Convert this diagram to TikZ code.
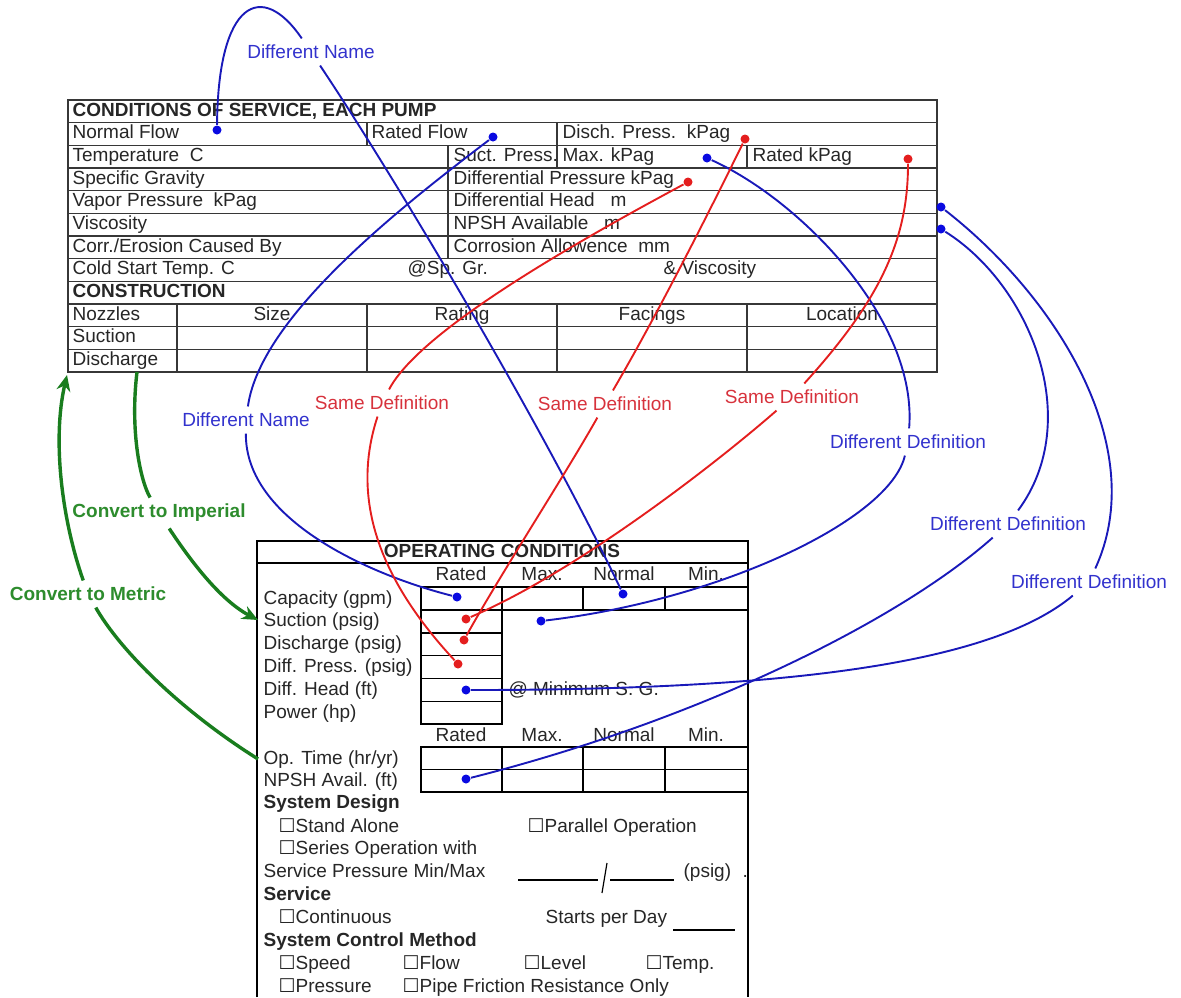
\documentclass[tikz,border=0pt]{standalone}
\usepackage{fontspec}
\setmainfont{Liberation Sans}
\newfontfamily\symfont{DejaVu Sans}
\usepackage{tikz}
\usetikzlibrary{arrows,arrows.meta,positioning}

\definecolor{lnblue}{RGB}{25,25,185}
\definecolor{txblue}{RGB}{50,50,205}
\definecolor{dotblue}{RGB}{10,10,225}
\definecolor{lnred}{RGB}{228,30,30}
\definecolor{txred}{RGB}{215,50,60}
\definecolor{lngreen}{RGB}{25,125,30}
\definecolor{txgreen}{RGB}{45,140,45}
\definecolor{gridgray}{RGB}{55,55,55}

\newcommand{\cb}{{\symfont\char"2610}}

\begin{document}
\begin{tikzpicture}[x=0.5pt,y=-0.5pt,>={Stealth[length=8pt,width=7pt]},semithick,
                    font=\fontsize{9.5}{11}\selectfont]
  \tikzstyle{txt}=[anchor=base west,inner sep=0pt,text=black!85]
  \tikzstyle{hdr}=[anchor=base,inner sep=0pt,text=black!85]
  \tikzstyle{grid}=[draw=gridgray,line width=0.6pt]
  \tikzstyle{cell}=[draw=black,line width=0.7pt]
  \tikzstyle{obox}=[draw=black,line width=1.2pt]
  \tikzstyle{bdot}=[circle,fill=dotblue,inner sep=0pt,minimum size=4.5pt]
  \tikzstyle{rdot}=[circle,fill=lnred,inner sep=0pt,minimum size=4.5pt]
  \tikzstyle{blab}=[text=txblue,inner sep=3pt]
  \tikzstyle{rlab}=[text=txred,inner sep=3pt]
  \tikzstyle{glab}=[text=txgreen,font=\fontsize{9.5}{11}\selectfont\bfseries,inner sep=3pt]
  \tikzstyle{bline}=[draw=lnblue,line width=0.95pt]
  \tikzstyle{rline}=[draw=lnred,line width=0.95pt]
  \tikzstyle{gline}=[draw=lngreen,line width=1.7pt,->]

  \useasboundingbox (0,0) rectangle (1181,997);

  % conditions of service table
  \draw[grid] (68,100) rectangle (937,372);
  \foreach \r in {1,...,11}
    \draw[grid] (68,{100+\r*22.667}) -- (937,{100+\r*22.667});
  \draw[grid] (367,122.67) -- (367,145.33);
  \draw[grid] (557,122.67) -- (557,168);
  \draw[grid] (448,145.33) -- (448,258.67);
  \draw[grid] (747,145.33) -- (747,168);
  \foreach \x in {177,367,557,747}
    \draw[grid] (\x,304) -- (\x,372);

  \foreach \t [count=\i from 0] in {{\bfseries CONDITIONS OF SERVICE, EACH PUMP},
      {Normal Flow},{Temperature\ \ C},{Specific Gravity},{Vapor Pressure\ \ kPag},
      {Viscosity},{Corr./Erosion Caused By},{Cold Start Temp. C},
      {\bfseries CONSTRUCTION},{Nozzles},{Suction},{Discharge}}
    \node[txt] (L\i) at (72,{100+\i*22.667+16}) {\t};

  \node[txt] (ratedFlow) at (371,138.7) {Rated Flow};
  \node[txt] (dischP)    at (562,138.7) {Disch. Press.\ \ kPag};
  \node[txt] (suctP)     at (453,161.3) {Suct. Press.};
  \node[txt] (maxK)      at (562,161.3) {Max. kPag};
  \node[txt] (ratedK)    at (752,161.3) {Rated kPag};
  \node[txt] (diffP)     at (453,184)   {Differential Pressure kPag};
  \node[txt] (diffH)     at (453,206.7) {Differential Head\ \ \ m};
  \node[txt] (npshA)     at (453,229.3) {NPSH Available\ \ \ m};
  \node[txt] (corrA)     at (453,252)   {Corrosion Allowence\ \ mm};
  \node[txt] (spGr)      at (407,274.7) {@Sp. Gr.};
  \node[txt] (visc)      at (663,274.7) {\&\ Viscosity};
  \node[hdr] (size)      at (272,320)   {Size};
  \node[hdr] (rating)    at (462,320)   {Rating};
  \node[hdr] (facings)   at (652,320)   {Facings};
  \node[hdr] (location)  at (842,320)   {Location};

  % operating conditions box
  \draw[obox] (257,997) -- (257,541) -- (748,541) -- (748,997);
  \draw[obox] (257,563) -- (748,563);
  \node[hdr] (opc) at (502,557) {\bfseries OPERATING CONDITIONS};
  \foreach \y/\n in {580.7/a,741.7/b}{
    \node[hdr] (rt\n) at (461,\y) {Rated};
    \node[hdr] (mx\n) at (542,\y) {Max.};
    \node[hdr] (nm\n) at (624,\y) {Normal};
    \node[hdr] (mn\n) at (706,\y) {Min.};
  }
  \draw[cell] (421,587) rectangle (748,610);
  \foreach \x in {502,583,665}
    \draw[cell] (\x,587) -- (\x,610);
  \foreach \y in {610,632.8,655.6,678.4,701.2}
    \draw[cell] (421,\y) rectangle (502,\y+22.8);
  \draw[cell] (421,747) rectangle (748,792);
  \draw[cell] (421,769.5) -- (748,769.5);
  \foreach \x in {502,583,665}
    \draw[cell] (\x,747) -- (\x,792);

  \foreach \t [count=\i from 0] in {{Capacity (gpm)},{Suction (psig)},{Discharge (psig)},
      {Diff. Press. (psig)},{Diff. Head (ft)},{Power (hp)}}
    \node[txt] (op\i) at (263,{604+\i*22.8}) {\t};
  \node[txt] (opTime) at (263,764) {Op. Time (hr/yr)};
  \node[txt] (opNpsh) at (263,786) {NPSH Avail. (ft)};
  \node[txt] (minSG)  at (508,695) {@ Minimum S. G.};

  \node[txt] (sysD)   at (263,808) {\bfseries System Design};
  \node[txt] (alone)  at (278,832) {\cb Stand Alone};
  \node[txt] (para)   at (527,832) {\cb Parallel Operation};
  \node[txt] (series) at (278,854) {\cb Series Operation with};
  \node[txt] (svcP)   at (263,877) {Service Pressure Min/Max};
  \node[txt] (psig)   at (683,877) {(psig)};
  \node[txt] (dot)    at (742,877) {.};
  \draw[line width=0.6pt] (518,880) -- (598,880);
  \draw[line width=0.6pt] (610,880) -- (674,880);
  \draw[line width=0.6pt] (607,863) -- (602,893);
  \node[txt] (svc)    at (263,900) {\bfseries Service};
  \node[txt] (cont)   at (278,923) {\cb Continuous};
  \node[txt] (starts) at (545,923) {Starts per Day};
  \draw[line width=0.6pt] (673,930) -- (735,930);
  \node[txt] (scm)    at (263,946) {\bfseries System Control Method};
  \node[txt] (speed)  at (278,969) {\cb Speed};
  \node[txt] (flow)   at (402,969) {\cb Flow};
  \node[txt] (level)  at (523,969) {\cb Level};
  \node[txt] (temp)   at (645,969) {\cb Temp.};
  \node[txt] (press)  at (278,992) {\cb Pressure};
  \node[txt] (pipe)   at (402,992) {\cb Pipe Friction Resistance Only};

  % end points
  \node[bdot] (nfDot)     at (217,130) {};
  \node[bdot] (rfDot)     at (493,137) {};
  \node[rdot] (dischDot)  at (745,139) {};
  \node[bdot] (maxDot)    at (707,158) {};
  \node[rdot] (ratedKDot) at (908,159) {};
  \node[rdot] (diffPDot)  at (688,182) {};
  \node[bdot] (headDot)   at (941,207) {};
  \node[bdot] (npshDot)   at (941,229) {};
  \node[bdot] (capRDot)   at (457,597) {};
  \node[bdot] (capNDot)   at (623,594) {};
  \node[rdot] (sucRDot)   at (466,619) {};
  \node[bdot] (sucMDot)   at (541,621) {};
  \node[rdot] (disRDot)   at (464,640) {};
  \node[rdot] (dpRDot)    at (458,664) {};
  \node[bdot] (hdRDot)    at (466,690) {};
  \node[bdot] (npRDot)    at (466,779) {};

  % labels
  \node[blab] (dname1) at (311,52)  {Different Name};
  \node[blab] (dname2) at (246,420) {Different Name};
  \node[rlab] (sdef1)  at (382,403) {Same Definition};
  \node[rlab] (sdef2)  at (605,404) {Same Definition};
  \node[rlab] (sdef3)  at (792,397) {Same Definition};
  \node[blab] (ddef1)  at (908,442) {Different Definition};
  \node[blab] (ddef2)  at (1008,524) {Different Definition};
  \node[blab] (ddef3)  at (1089,582) {Different Definition};
  \node[glab] (toImp)  at (159,513) {Convert to Imperial};
  \node[glab] (toMet)  at (88,594)  {Convert to Metric};

  \coordinate (tblFoot)   at (137,372);
  \coordinate (tblCorner) at (67,375);
  \coordinate (sucIn)     at (258,620);
  \coordinate (opIn)      at (258,759);

  % blue: different name / definition
  \draw[bline] (nfDot) .. controls (218,0) and (262,-20) .. (dname1);
  \draw[bline] (dname1) .. controls (390,170) and (540,420) .. (capNDot);
  \draw[bline] (rfDot) .. controls (390,215) and (260,320) .. (dname2);
  \draw[bline] (dname2) .. controls (245,520) and (370,575) .. (capRDot);
  \draw[bline] (maxDot) .. controls (800,200) and (918,320) .. (ddef1);
  \draw[bline] (ddef1) .. controls (890,520) and (720,600) .. (sucMDot);
  \draw[bline] (headDot) .. controls (1060,300) and (1150,450) .. (ddef3);
  \draw[bline] (ddef3) .. controls (990,665) and (780,690) .. (hdRDot);
  \draw[bline] (npshDot) .. controls (1030,285) and (1085,420) .. (ddef2);
  \draw[bline] (ddef2) .. controls (900,620) and (700,720) .. (npRDot);

  % red: same definition
  \draw[rline] (dischDot) .. controls (715,200) and (660,310) .. (sdef2);
  \draw[rline] (sdef2) .. controls (565,475) and (500,575) .. (disRDot);
  \draw[rline] (ratedKDot) .. controls (908,240) and (880,300) .. (sdef3);
  \draw[rline] (sdef3) .. controls (720,460) and (580,570) .. (sucRDot);
  \draw[rline] (diffPDot) .. controls (580,240) and (420,330) .. (sdef1);
  \draw[rline] (sdef1) .. controls (350,500) and (380,580) .. (dpRDot);

  % green: unit conversion
  \draw[gline,-] (tblFoot) .. controls (130,430) and (140,480) .. (toImp);
  \draw[gline] (toImp) .. controls (190,560) and (220,600) .. (sucIn);
  \draw[gline,-] (opIn) .. controls (180,710) and (120,650) .. (toMet);
  \draw[gline] (toMet) .. controls (62,520) and (52,440) .. (tblCorner);
\end{tikzpicture}
\end{document}
